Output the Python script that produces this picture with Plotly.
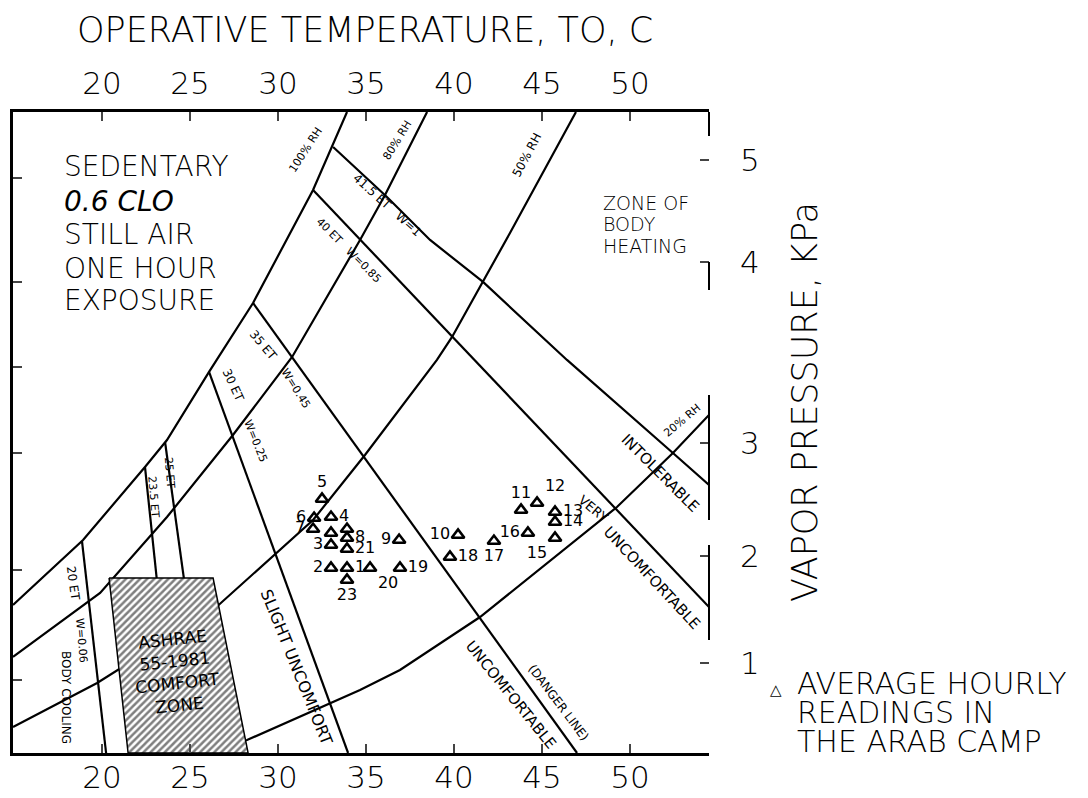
import plotly.graph_objects as go

# ---------------- data (temperature in C, vapour pressure in kPa) ----------------
X_TICKS = [20, 25, 30, 35, 40, 45, 50]
Y_TICK_LABELS = ["1", "2", "3", "4", "5"]
Y_TICK_POS = [1.02, 1.99, 3.02, 4.66, 5.59]      # where the scanned scale prints them
LEFT_TICK_POS = [0.86, 1.86, 2.93, 3.71, 4.48, 5.43]

rh100_t = [14.94, 18.92, 22.44, 23.69, 26.08, 28.58, 31.99, 33.92]
rh100_v = [1.545, 2.136, 2.80, 3.045, 3.664, 4.291, 5.318, 6.027]
rh80_t = [14.94, 19.89, 23.69, 26.31, 27.44, 30.80, 34.66, 36.08, 38.47]
rh80_v = [1.073, 1.655, 2.345, 2.864, 3.091, 3.80, 4.864, 5.273, 6.027]
rh50_t = [14.94, 19.72, 26.31, 29.94, 31.99, 34.94, 39.03, 39.89, 41.65, 43.18, 46.93]
rh50_v = [0.436, 0.836, 1.50, 2.018, 2.318, 2.909, 3.773, 3.982, 4.482, 4.927, 6.027]
rh20_t = [25.0, 28.24, 34.66, 36.93, 41.48, 49.26, 52.44, 54.49]
rh20_v = [0.2, 0.318, 0.773, 0.955, 1.436, 2.436, 2.927, 3.273]

et20_t, et20_v = [18.86, 20.23], [2.127, 0.2]
et235_t, et235_v = [22.44, 24.15], [2.80, 0.2]
et25_t, et25_v = [23.58, 26.02], [3.027, 0.2]
et30_t, et30_v = [26.08, 33.98], [3.664, 0.2]
et35_t, et35_v = [28.58, 46.99], [4.291, 0.2]
et40_t, et40_v = [31.99, 39.94, 54.49], [5.318, 3.982, 1.527]
et415_t = [33.13, 36.19, 38.64, 41.65, 46.42, 49.03, 52.44, 54.49]
et415_v = [5.709, 5.255, 4.864, 4.482, 3.773, 3.409, 2.927, 2.636]

zone_t = [20.40, 26.31, 28.30, 21.48, 20.40]
zone_v = [1.791, 1.791, 0.2, 0.2, 1.791]

pt_label = ["1", "2", "3", "4", "5", "6", "7", "8", "9", "10", "11", "12",
            "13", "14", "15", "16", "17", "18", "19", "20", "21", "23", "", ""]
pt_t = [33.92, 33.01, 33.01, 33.01, 32.50, 32.05, 31.99, 33.92, 36.88, 40.23, 43.81, 44.72,
        45.74, 45.74, 45.74, 44.20, 42.27, 39.77, 36.93, 35.23, 33.92, 33.92, 33.01, 33.92]
pt_v = [1.882, 1.882, 2.091, 2.345, 2.509, 2.336, 2.236, 2.155, 2.136, 2.182, 2.409, 2.473,
        2.391, 2.30, 2.155, 2.20, 2.127, 1.982, 1.882, 1.882, 2.055, 1.773, 2.20, 2.236]
pt_pos = ["middle right", "middle left", "middle left", "middle right", "top center",
          "middle left", "middle left", "middle right", "middle left", "middle left",
          "top center", "top right", "middle right", "middle right", "bottom left",
          "middle left", "bottom center", "middle right", "middle right", "bottom right",
          "middle right", "bottom center", "middle left", "middle left"]

X_RANGE = [14.94, 54.49]
Y_RANGE = [0.2, 6.027]

FONT = "DejaVu Sans"
fig = go.Figure()

line = dict(color="black", width=2.2)
for t, v in [(rh100_t, rh100_v), (rh80_t, rh80_v), (rh50_t, rh50_v), (rh20_t, rh20_v),
             (et20_t, et20_v), (et235_t, et235_v), (et25_t, et25_v), (et30_t, et30_v),
             (et35_t, et35_v), (et40_t, et40_v), (et415_t, et415_v)]:
    fig.add_trace(go.Scatter(x=t, y=v, mode="lines", line=line, hoverinfo="skip",
                             showlegend=False))

fig.add_trace(go.Scatter(x=zone_t, y=zone_v, mode="lines", fill="toself",
                         line=dict(color="black", width=1.5), fillcolor="rgba(0,0,0,0)",
                         fillpattern=dict(shape="/", fgcolor="black", bgcolor="white",
                                          size=5, solidity=0.5),
                         showlegend=False, hoverinfo="skip"))

fig.add_trace(go.Scatter(x=pt_t, y=pt_v, mode="markers+text", text=pt_label,
                         textposition=pt_pos,
                         textfont=dict(family=FONT, size=16, color="black"),
                         marker=dict(symbol="triangle-up-open", size=11, color="black",
                                     line=dict(width=2.6, color="black")),
                         showlegend=False))

# invisible anchors for the secondary axes
fig.add_trace(go.Scatter(x=X_RANGE, y=Y_RANGE, xaxis="x2", yaxis="y", mode="markers",
                         marker=dict(opacity=0), showlegend=False, hoverinfo="skip"))
fig.add_trace(go.Scatter(x=X_RANGE, y=Y_RANGE, xaxis="x", yaxis="y2", mode="markers",
                         marker=dict(opacity=0), showlegend=False, hoverinfo="skip"))

L, R, T, B = 13, 709, 112, 753


def P(px, py):
    return (px - L) / (R - L), (B - py) / (B - T)


anns = []


def ann(text, px, py, angle=0, size=12, align="center", xanchor="center", weight=None):
    x, y = P(px, py)
    f = dict(family=FONT, size=size, color="black")
    if weight:
        f["weight"] = weight
    anns.append(dict(text=text, x=x, y=y, xref="paper", yref="paper", showarrow=False,
                     textangle=angle, xanchor=xanchor, yanchor="middle", align=align,
                     font=f))


ann("OPERATIVE TEMPERATURE, TO, C", 365, 30, size=35, weight=200)
ann("VAPOR PRESSURE, KPa", 805, 402, angle=-90, size=35, weight=200)
ann("\u25b3", 776, 690, size=15)
ann("AVERAGE HOURLY", 795, 683, size=30, xanchor="left", weight=200)
ann("READINGS IN", 795, 712, size=30, xanchor="left", weight=200)
ann("THE ARAB CAMP", 795, 741, size=30, xanchor="left", weight=200)

for txt, yy in [("SEDENTARY", 166), ("<i>0.6 CLO</i>", 201), ("STILL AIR", 235),
                ("ONE HOUR", 268), ("EXPOSURE", 300)]:
    ann(txt, 62, yy, size=28, xanchor="left", weight=200)
for txt, yy in [("ZONE OF", 203), ("BODY", 224), ("HEATING", 246)]:
    ann(txt, 601, yy, size=19, xanchor="left", weight=200)

ann("100% RH", 305, 150, -57, 11)
ann("80% RH", 397, 140, -58, 11)
ann("50% RH", 527, 155, -62, 12)
ann("20% RH", 682, 420, -40, 11)
ann("41.5 ET   W=1", 387, 205, 42, 12)
ann("40 ET   W=0.85", 349, 250, 45, 11)
ann("35 ET", 263, 345, 50, 12)
ann("W=0.45", 296, 388, 58, 11)
ann("30 ET", 233, 385, 65, 12)
ann("W=0.25", 255, 441, 68, 11)
ann("25 ET", 170, 472, 85, 11)
ann("23.5 ET", 154, 497, 85, 11)
ann("20 ET", 73, 583, 82, 12)
ann("W=0.06", 82, 640, 85, 11)
ann("BODY COOLING", 66, 697, 90, 12)
ann("SLIGHT UNCOMFORT", 297, 667, 68, 16)
ann("UNCOMFORTABLE", 511, 695, 51, 15)
ann("(DANGER LINE)", 558, 702, 53, 12)
ann("VERY", 593, 508, 40, 13)
ann("UNCOMFORTABLE", 652, 578, 47, 15)
ann("INTOLERABLE", 660, 473, 45, 15)
ann("ASHRAE<br>55-1981<br>COMFORT<br>ZONE", 176, 672, -6, 17)

shapes = []
for y0, y1 in [(112, 136), (262, 290), (395, 520), (545, 640)]:
    shapes.append(dict(type="line", xref="paper", yref="paper",
                       x0=1, x1=1, y0=(B - y0) / (B - T), y1=(B - y1) / (B - T),
                       line=dict(color="black", width=2)))

tickfont = dict(family=FONT, size=31, color="black", weight=200)
fig.update_layout(
    width=1088, height=798,
    margin=dict(l=L, r=1088 - R, t=T, b=798 - B, autoexpand=False),
    paper_bgcolor="white", plot_bgcolor="white",
    showlegend=False,
    annotations=anns, shapes=shapes,
    xaxis=dict(range=X_RANGE, tickvals=X_TICKS, ticks="inside", ticklen=9, tickwidth=2,
               showline=True, linecolor="black", linewidth=2.5, showgrid=False,
               zeroline=False, tickfont=tickfont, ticklabelstandoff=-5, automargin=False),
    xaxis2=dict(range=X_RANGE, overlaying="x", side="top", tickvals=X_TICKS,
                ticks="inside", ticklen=9, tickwidth=2, showline=True, linecolor="black",
                linewidth=2.5, showgrid=False, zeroline=False, tickfont=tickfont,
                ticklabelstandoff=3, automargin=False),
    yaxis=dict(range=Y_RANGE, tickvals=LEFT_TICK_POS, ticks="inside", ticklen=9,
               tickwidth=2, showticklabels=False, showline=True, linecolor="black",
               linewidth=2.5, showgrid=False, zeroline=False, automargin=False),
    yaxis2=dict(range=Y_RANGE, overlaying="y", side="right", tickvals=Y_TICK_POS,
                ticktext=Y_TICK_LABELS, ticks="inside", ticklen=9, tickwidth=2,
                showline=False, showgrid=False, zeroline=False, tickfont=tickfont,
                ticklabelstandoff=30, automargin=False),
)

fig.write_html("out.html", config={"displayModeBar": False},
               post_script="document.body.style.margin='0px';")
